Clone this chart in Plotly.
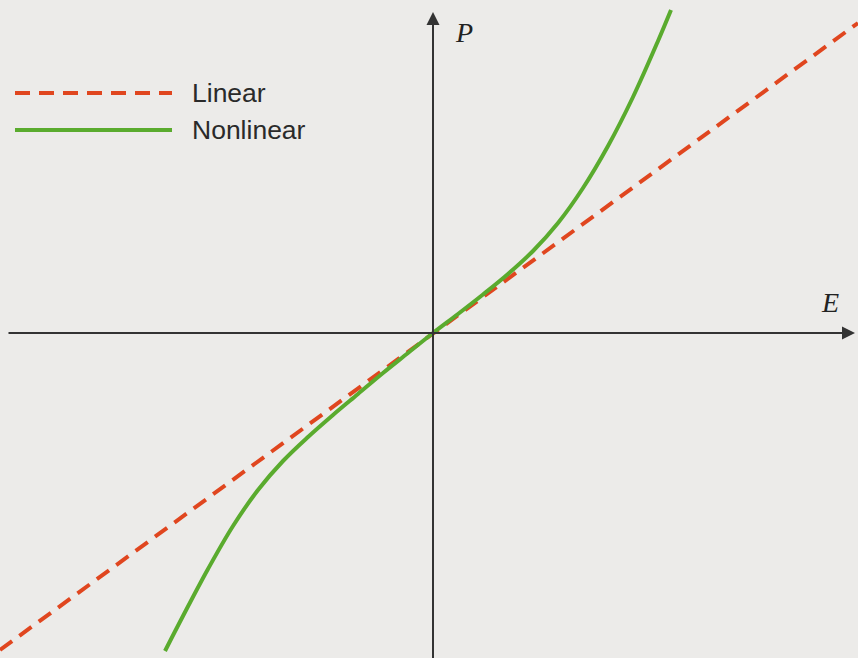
import plotly.graph_objects as go

# Linear response P = chi*E (straight dashed line through the origin)
linear_E = [-4.33, 4.25]
linear_P = [-3.17, 3.10]

# Nonlinear response, sampled along the curve
nonlinear_E = [-2.68, -2.50, -2.25, -2.00, -1.75, -1.50, -1.25, -1.00, -0.75, -0.50, -0.25,
               0.0, 0.25, 0.50, 0.75, 1.00, 1.25, 1.50, 1.75, 2.00, 2.25, 2.38]
nonlinear_P = [-3.18, -2.83, -2.36, -1.93, -1.57, -1.28, -1.04, -0.82, -0.61, -0.40, -0.20,
               0.0, 0.19, 0.385, 0.59, 0.82, 1.10, 1.45, 1.87, 2.36, 2.92, 3.23]

series_names = ["Linear", "Nonlinear"]
axis_labels = ["E", "P"]

RED = "#e0461f"
GREEN = "#5aab2e"
AXIS = "#333333"
BG = "#ecebe9"

fig = go.Figure()

fig.add_trace(go.Scatter(
    x=linear_E, y=linear_P, mode="lines",
    line=dict(color=RED, width=4, dash="15px,9px"),
    name=series_names[0], showlegend=False, hoverinfo="skip"))

fig.add_trace(go.Scatter(
    x=nonlinear_E, y=nonlinear_P, mode="lines",
    line=dict(color=GREEN, width=4, shape="spline", smoothing=1.0),
    name=series_names[1], showlegend=False, hoverinfo="skip"))

# Coordinate axes with arrowheads
fig.add_annotation(x=4.22, y=0.0, ax=-4.26, ay=0.0, xref="x", yref="y",
                   axref="x", ayref="y", text="", showarrow=True,
                   arrowhead=2, arrowsize=1.3, arrowwidth=2, arrowcolor=AXIS)
fig.add_annotation(x=0.0, y=3.21, ax=0.0, ay=-3.30, xref="x", yref="y",
                   axref="x", ayref="y", text="", showarrow=True,
                   arrowhead=2, arrowsize=1.3, arrowwidth=2, arrowcolor=AXIS)

# Axis labels
fig.add_annotation(x=3.97, y=0.31, text="<i>" + axis_labels[0] + "</i>",
                   showarrow=False, font=dict(family="Liberation Serif", size=28, color="#222"))
fig.add_annotation(x=0.31, y=3.01, text="<i>" + axis_labels[1] + "</i>",
                   showarrow=False, font=dict(family="Liberation Serif", size=28, color="#222"))

# Legend drawn as sample lines with labels
legend_rows = [(1 - 93 / 658, RED, "15px,9px"), (1 - 130 / 658, GREEN, "solid")]
for (yp, col, dash), name in zip(legend_rows, series_names):
    fig.add_shape(type="line", xref="paper", yref="paper",
                  x0=15 / 858, x1=172 / 858, y0=yp, y1=yp,
                  line=dict(color=col, width=4, dash=dash))
    fig.add_annotation(xref="paper", yref="paper", x=190 / 858, y=yp,
                       xanchor="left", yanchor="middle", text=name, showarrow=False,
                       font=dict(family="Liberation Sans", size=26.5, color="#2a2a2a"))

fig.update_xaxes(range=[-4.33, 4.25], visible=False, showgrid=False, zeroline=False)
fig.update_yaxes(range=[-3.25, 3.33], visible=False, showgrid=False, zeroline=False)
fig.update_layout(width=858, height=658, margin=dict(l=0, r=0, t=0, b=0),
                  plot_bgcolor=BG, paper_bgcolor=BG)

fig.write_html("out.html")
